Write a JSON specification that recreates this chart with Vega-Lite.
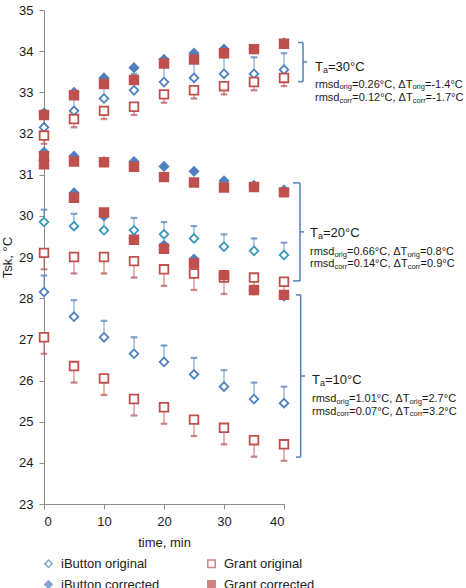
{
  "$schema": "https://vega.github.io/schema/vega-lite/v6.json",
  "width": 240,
  "height": 494,
  "autosize": {"type": "none"},
  "padding": {"left": 44, "top": 10, "right": 182, "bottom": 84},
  "config": {
    "view": {"stroke": null},
    "font": "Liberation Sans",
    "axis": {"labelFont": "Liberation Sans", "titleFont": "Liberation Sans", "labelFontSize": 13, "titleFontSize": 13, "titleFontWeight": "normal", "labelColor": "#1a1a1a", "titleColor": "#1a1a1a", "domainColor": "#8c8c8c", "tickColor": "#8c8c8c", "tickSize": 5, "grid": false},
    "legend": {"orient": "none", "legendX": -2, "legendY": 547, "direction": "horizontal", "columns": 2, "labelFontSize": 13, "labelFont": "Liberation Sans", "labelColor": "#222", "symbolSize": 55, "symbolStrokeWidth": 1.5, "columnPadding": 44, "rowPadding": 6, "labelOffset": 6, "title": null}
  },
  "datasets": {
    "pts": [
      {"g": "30", "series": "iButton original", "t": 0, "v": 32.15, "eb": 32.55},
      {"g": "30", "series": "iButton original", "t": 5, "v": 32.55, "eb": 32.95},
      {"g": "30", "series": "iButton original", "t": 10, "v": 32.85, "eb": 33.25},
      {"g": "30", "series": "iButton original", "t": 15, "v": 33.05, "eb": 33.45},
      {"g": "30", "series": "iButton original", "t": 20, "v": 33.25, "eb": 33.65},
      {"g": "30", "series": "iButton original", "t": 25, "v": 33.35, "eb": 33.75},
      {"g": "30", "series": "iButton original", "t": 30, "v": 33.45, "eb": 33.85},
      {"g": "30", "series": "iButton original", "t": 35, "v": 33.45, "eb": 33.85},
      {"g": "30", "series": "iButton original", "t": 40, "v": 33.55, "eb": 33.95},
      {"g": "30", "series": "Grant original", "t": 0, "v": 31.95, "eb": 31.75},
      {"g": "30", "series": "Grant original", "t": 5, "v": 32.35, "eb": 32.15},
      {"g": "30", "series": "Grant original", "t": 10, "v": 32.55, "eb": 32.35},
      {"g": "30", "series": "Grant original", "t": 15, "v": 32.65, "eb": 32.45},
      {"g": "30", "series": "Grant original", "t": 20, "v": 32.95, "eb": 32.75},
      {"g": "30", "series": "Grant original", "t": 25, "v": 33.05, "eb": 32.85},
      {"g": "30", "series": "Grant original", "t": 30, "v": 33.15, "eb": 32.95},
      {"g": "30", "series": "Grant original", "t": 35, "v": 33.25, "eb": 33.05},
      {"g": "30", "series": "Grant original", "t": 40, "v": 33.35, "eb": 33.15},
      {"g": "20", "series": "iButton original", "t": 0, "v": 29.85, "eb": 30.15},
      {"g": "20", "series": "iButton original", "t": 5, "v": 29.75, "eb": 30.05},
      {"g": "20", "series": "iButton original", "t": 10, "v": 29.65, "eb": 29.95},
      {"g": "20", "series": "iButton original", "t": 15, "v": 29.65, "eb": 29.95},
      {"g": "20", "series": "iButton original", "t": 20, "v": 29.55, "eb": 29.85},
      {"g": "20", "series": "iButton original", "t": 25, "v": 29.45, "eb": 29.75},
      {"g": "20", "series": "iButton original", "t": 30, "v": 29.25, "eb": 29.55},
      {"g": "20", "series": "iButton original", "t": 35, "v": 29.15, "eb": 29.45},
      {"g": "20", "series": "iButton original", "t": 40, "v": 29.05, "eb": 29.35},
      {"g": "20", "series": "Grant original", "t": 0, "v": 29.1, "eb": 28.7},
      {"g": "20", "series": "Grant original", "t": 5, "v": 29.0, "eb": 28.6},
      {"g": "20", "series": "Grant original", "t": 10, "v": 29.0, "eb": 28.6},
      {"g": "20", "series": "Grant original", "t": 15, "v": 28.9, "eb": 28.5},
      {"g": "20", "series": "Grant original", "t": 20, "v": 28.7, "eb": 28.3},
      {"g": "20", "series": "Grant original", "t": 25, "v": 28.6, "eb": 28.2},
      {"g": "20", "series": "Grant original", "t": 30, "v": 28.5, "eb": 28.1},
      {"g": "20", "series": "Grant original", "t": 35, "v": 28.5, "eb": 28.1},
      {"g": "20", "series": "Grant original", "t": 40, "v": 28.4, "eb": 28.0},
      {"g": "10", "series": "iButton original", "t": 0, "v": 28.15, "eb": 28.55},
      {"g": "10", "series": "iButton original", "t": 5, "v": 27.55, "eb": 27.95},
      {"g": "10", "series": "iButton original", "t": 10, "v": 27.05, "eb": 27.45},
      {"g": "10", "series": "iButton original", "t": 15, "v": 26.65, "eb": 27.05},
      {"g": "10", "series": "iButton original", "t": 20, "v": 26.45, "eb": 26.85},
      {"g": "10", "series": "iButton original", "t": 25, "v": 26.15, "eb": 26.55},
      {"g": "10", "series": "iButton original", "t": 30, "v": 25.85, "eb": 26.25},
      {"g": "10", "series": "iButton original", "t": 35, "v": 25.55, "eb": 25.95},
      {"g": "10", "series": "iButton original", "t": 40, "v": 25.45, "eb": 25.85},
      {"g": "10", "series": "Grant original", "t": 0, "v": 27.05, "eb": 26.65},
      {"g": "10", "series": "Grant original", "t": 5, "v": 26.35, "eb": 25.95},
      {"g": "10", "series": "Grant original", "t": 10, "v": 26.05, "eb": 25.65},
      {"g": "10", "series": "Grant original", "t": 15, "v": 25.55, "eb": 25.15},
      {"g": "10", "series": "Grant original", "t": 20, "v": 25.35, "eb": 24.95},
      {"g": "10", "series": "Grant original", "t": 25, "v": 25.05, "eb": 24.65},
      {"g": "10", "series": "Grant original", "t": 30, "v": 24.85, "eb": 24.45},
      {"g": "10", "series": "Grant original", "t": 35, "v": 24.55, "eb": 24.15},
      {"g": "10", "series": "Grant original", "t": 40, "v": 24.45, "eb": 24.05},
      {"g": "30", "series": "iButton corrected", "t": 0, "v": 32.5},
      {"g": "30", "series": "iButton corrected", "t": 5, "v": 33.0},
      {"g": "30", "series": "iButton corrected", "t": 10, "v": 33.35},
      {"g": "30", "series": "iButton corrected", "t": 15, "v": 33.6},
      {"g": "30", "series": "iButton corrected", "t": 20, "v": 33.8},
      {"g": "30", "series": "iButton corrected", "t": 25, "v": 33.95},
      {"g": "30", "series": "iButton corrected", "t": 30, "v": 34.05},
      {"g": "30", "series": "iButton corrected", "t": 35, "v": 34.05},
      {"g": "30", "series": "iButton corrected", "t": 40, "v": 34.2},
      {"g": "20", "series": "iButton corrected", "t": 0, "v": 31.55},
      {"g": "20", "series": "iButton corrected", "t": 5, "v": 31.45},
      {"g": "20", "series": "iButton corrected", "t": 10, "v": 31.32},
      {"g": "20", "series": "iButton corrected", "t": 15, "v": 31.32},
      {"g": "20", "series": "iButton corrected", "t": 20, "v": 31.2},
      {"g": "20", "series": "iButton corrected", "t": 25, "v": 31.08},
      {"g": "20", "series": "iButton corrected", "t": 30, "v": 30.85},
      {"g": "20", "series": "iButton corrected", "t": 35, "v": 30.74},
      {"g": "20", "series": "iButton corrected", "t": 40, "v": 30.63},
      {"g": "10", "series": "iButton corrected", "t": 0, "v": 31.35},
      {"g": "10", "series": "iButton corrected", "t": 5, "v": 30.56},
      {"g": "10", "series": "iButton corrected", "t": 10, "v": 30.0},
      {"g": "10", "series": "iButton corrected", "t": 15, "v": 29.45},
      {"g": "10", "series": "iButton corrected", "t": 20, "v": 29.29},
      {"g": "10", "series": "iButton corrected", "t": 25, "v": 28.95},
      {"g": "10", "series": "iButton corrected", "t": 30, "v": 28.55},
      {"g": "10", "series": "iButton corrected", "t": 35, "v": 28.2},
      {"g": "10", "series": "iButton corrected", "t": 40, "v": 28.05},
      {"g": "30", "series": "Grant corrected", "t": 0, "v": 32.45},
      {"g": "30", "series": "Grant corrected", "t": 5, "v": 32.93},
      {"g": "30", "series": "Grant corrected", "t": 10, "v": 33.2},
      {"g": "30", "series": "Grant corrected", "t": 15, "v": 33.3},
      {"g": "30", "series": "Grant corrected", "t": 20, "v": 33.7},
      {"g": "30", "series": "Grant corrected", "t": 25, "v": 33.8},
      {"g": "30", "series": "Grant corrected", "t": 30, "v": 33.95},
      {"g": "30", "series": "Grant corrected", "t": 35, "v": 34.05},
      {"g": "30", "series": "Grant corrected", "t": 40, "v": 34.18},
      {"g": "20", "series": "Grant corrected", "t": 0, "v": 31.45},
      {"g": "20", "series": "Grant corrected", "t": 5, "v": 31.32},
      {"g": "20", "series": "Grant corrected", "t": 10, "v": 31.3},
      {"g": "20", "series": "Grant corrected", "t": 15, "v": 31.19},
      {"g": "20", "series": "Grant corrected", "t": 20, "v": 30.94},
      {"g": "20", "series": "Grant corrected", "t": 25, "v": 30.81},
      {"g": "20", "series": "Grant corrected", "t": 30, "v": 30.69},
      {"g": "20", "series": "Grant corrected", "t": 35, "v": 30.7},
      {"g": "20", "series": "Grant corrected", "t": 40, "v": 30.57},
      {"g": "10", "series": "Grant corrected", "t": 0, "v": 31.25},
      {"g": "10", "series": "Grant corrected", "t": 5, "v": 30.44},
      {"g": "10", "series": "Grant corrected", "t": 10, "v": 30.08},
      {"g": "10", "series": "Grant corrected", "t": 15, "v": 29.42},
      {"g": "10", "series": "Grant corrected", "t": 20, "v": 29.2},
      {"g": "10", "series": "Grant corrected", "t": 25, "v": 28.85},
      {"g": "10", "series": "Grant corrected", "t": 30, "v": 28.56},
      {"g": "10", "series": "Grant corrected", "t": 35, "v": 28.2},
      {"g": "10", "series": "Grant corrected", "t": 40, "v": 28.08}
    ],
    "ann": [
      {"g": "30", "xb": 43.17, "xh": 42.33, "xm": 43.85, "yt": 34.21, "yb": 33.26, "ym": 33.74, "xt": 45.17, "yTa": 33.62, "y1": 33.18, "y2": 32.86, "ta": "=30°C", "r1": "=0.26°C, ΔT", "e1": "=-1.4°C", "r2": "=0.12°C, ΔT", "e2": "=-1.7°C"},
      {"g": "20", "xb": 42.67, "xh": 41.5, "xm": 43.33, "yt": 30.8, "yb": 28.42, "ym": 29.61, "xt": 44.33, "yTa": 29.58, "y1": 29.12, "y2": 28.82, "ta": "=20°C", "r1": "=0.66°C, ΔT", "e1": "=0.8°C", "r2": "=0.14°C, ΔT", "e2": "=0.9°C"},
      {"g": "10", "xb": 42.78, "xh": 42.0, "xm": 43.5, "yt": 28.08, "yb": 24.14, "ym": 26.11, "xt": 44.67, "yTa": 26.01, "y1": 25.54, "y2": 25.24, "ta": "=10°C", "r1": "=1.01°C, ΔT", "e1": "=2.7°C", "r2": "=0.07°C, ΔT", "e2": "=3.2°C"}
    ]
  },
  "layer": [
    {
      "data": {"name": "pts"},
      "transform": [{"filter": "isValid(datum.eb)"}],
      "mark": {"type": "rule", "strokeWidth": 1.2, "opacity": 0.7},
      "encoding": {
        "x": {"field": "t", "type": "quantitative", "scale": {"domain": [0, 40], "nice": false}, "axis": {"values": [0, 10, 20, 30, 40], "title": "time, min", "labelPadding": 6, "titlePadding": 8}},
        "y": {"field": "v", "type": "quantitative", "scale": {"domain": [23, 35], "nice": false}, "axis": {"values": [23, 24, 25, 26, 27, 28, 29, 30, 31, 32, 33, 34, 35], "title": "Tsk, °C", "labelPadding": 6, "titlePadding": 4}},
        "y2": {"field": "eb"},
        "stroke": {"field": "series", "type": "nominal", "scale": {"domain": ["iButton original", "Grant original", "iButton corrected", "Grant corrected"], "range": ["#4F81BD", "#C0504D", "#4F81BD", "#C0504D"]}}
      }
    },
    {
      "data": {"name": "pts"},
      "transform": [{"filter": "isValid(datum.eb)"}],
      "mark": {"type": "tick", "orient": "horizontal", "size": 6, "thickness": 1.2, "opacity": 0.7},
      "encoding": {
        "x": {"field": "t", "type": "quantitative", "title": "time, min"},
        "y": {"field": "eb", "type": "quantitative", "title": "Tsk, °C"},
        "stroke": {"field": "series", "type": "nominal"}
      }
    },
    {
      "data": {"name": "pts"},
      "transform": [{"filter": "!(datum.g == '20' && datum.series == 'iButton original')"}],
      "mark": {"type": "point", "strokeWidth": 1.8, "opacity": 1, "size": 75},
      "encoding": {
        "x": {"field": "t", "type": "quantitative", "title": "time, min"},
        "y": {"field": "v", "type": "quantitative", "title": "Tsk, °C"},
        "shape": {"field": "series", "type": "nominal", "scale": {"domain": ["iButton original", "Grant original", "iButton corrected", "Grant corrected"], "range": ["diamond", "square", "diamond", "square"]}},
        "stroke": {"field": "series", "type": "nominal"},
        "fill": {"field": "series", "type": "nominal", "scale": {"domain": ["iButton original", "Grant original", "iButton corrected", "Grant corrected"], "range": ["#ffffff", "#ffffff", "#4F81BD", "#C0504D"]}}
      }
    },
    {
      "data": {"name": "pts"},
      "transform": [{"filter": "datum.g == '20' && datum.series == 'iButton original'"}],
      "mark": {"type": "point", "shape": "diamond", "strokeWidth": 1.8, "opacity": 1, "size": 75, "stroke": "#3A98B9", "fill": "#ffffff", "filled": false},
      "encoding": {
        "x": {"field": "t", "type": "quantitative", "title": "time, min"},
        "y": {"field": "v", "type": "quantitative", "title": "Tsk, °C"}
      }
    },
    {
      "data": {"name": "ann"},
      "mark": {"type": "rule", "stroke": "#4F81BD", "strokeWidth": 1.5},
      "encoding": {"x": {"field": "xb", "type": "quantitative", "title": "time, min"}, "y": {"field": "yt", "type": "quantitative", "title": "Tsk, °C"}, "y2": {"field": "yb"}}
    },
    {
      "data": {"name": "ann"},
      "mark": {"type": "rule", "stroke": "#4F81BD", "strokeWidth": 1.5},
      "encoding": {"x": {"field": "xh", "type": "quantitative", "title": "time, min"}, "x2": {"field": "xb"}, "y": {"field": "yt", "type": "quantitative", "title": "Tsk, °C"}}
    },
    {
      "data": {"name": "ann"},
      "mark": {"type": "rule", "stroke": "#4F81BD", "strokeWidth": 1.5},
      "encoding": {"x": {"field": "xh", "type": "quantitative", "title": "time, min"}, "x2": {"field": "xb"}, "y": {"field": "yb", "type": "quantitative", "title": "Tsk, °C"}}
    },
    {
      "data": {"name": "ann"},
      "mark": {"type": "rule", "stroke": "#4F81BD", "strokeWidth": 1.5},
      "encoding": {"x": {"field": "xb", "type": "quantitative", "title": "time, min"}, "x2": {"field": "xm"}, "y": {"field": "ym", "type": "quantitative", "title": "Tsk, °C"}}
    },
    {
      "data": {"name": "ann"},
      "mark": {"type": "text", "align": "left", "baseline": "middle", "fontSize": 13, "font": "Liberation Sans", "color": "#1a1a1a"},
      "encoding": {"x": {"field": "xt", "type": "quantitative", "title": "time, min"}, "y": {"field": "yTa", "type": "quantitative", "title": "Tsk, °C"}, "text": {"value": "T"}}
    },
    {
      "data": {"name": "ann"},
      "mark": {"type": "text", "align": "left", "baseline": "middle", "fontSize": 9, "font": "Liberation Sans", "color": "#1a1a1a", "dx": 8, "dy": 3},
      "encoding": {"x": {"field": "xt", "type": "quantitative", "title": "time, min"}, "y": {"field": "yTa", "type": "quantitative", "title": "Tsk, °C"}, "text": {"value": "a"}}
    },
    {
      "data": {"name": "ann"},
      "mark": {"type": "text", "align": "left", "baseline": "middle", "fontSize": 13, "font": "Liberation Sans", "color": "#1a1a1a", "dx": 13},
      "encoding": {"x": {"field": "xt", "type": "quantitative", "title": "time, min"}, "y": {"field": "yTa", "type": "quantitative", "title": "Tsk, °C"}, "text": {"field": "ta"}}
    },
    {
      "data": {"name": "ann"},
      "mark": {"type": "text", "align": "left", "baseline": "middle", "fontSize": 11, "font": "Liberation Sans", "color": "#1a1a1a"},
      "encoding": {"x": {"field": "xt", "type": "quantitative", "title": "time, min"}, "y": {"field": "y1", "type": "quantitative", "title": "Tsk, °C"}, "text": {"value": "rmsd"}}
    },
    {
      "data": {"name": "ann"},
      "mark": {"type": "text", "align": "left", "baseline": "middle", "fontSize": 7.5, "font": "Liberation Sans", "color": "#1a1a1a", "dx": 24.4, "dy": 2.5},
      "encoding": {"x": {"field": "xt", "type": "quantitative", "title": "time, min"}, "y": {"field": "y1", "type": "quantitative", "title": "Tsk, °C"}, "text": {"value": "orig"}}
    },
    {
      "data": {"name": "ann"},
      "mark": {"type": "text", "align": "left", "baseline": "middle", "fontSize": 11, "font": "Liberation Sans", "color": "#1a1a1a", "dx": 37},
      "encoding": {"x": {"field": "xt", "type": "quantitative", "title": "time, min"}, "y": {"field": "y1", "type": "quantitative", "title": "Tsk, °C"}, "text": {"field": "r1"}}
    },
    {
      "data": {"name": "ann"},
      "mark": {"type": "text", "align": "left", "baseline": "middle", "fontSize": 7.5, "font": "Liberation Sans", "color": "#1a1a1a", "dx": 97.4, "dy": 2.5},
      "encoding": {"x": {"field": "xt", "type": "quantitative", "title": "time, min"}, "y": {"field": "y1", "type": "quantitative", "title": "Tsk, °C"}, "text": {"value": "orig"}}
    },
    {
      "data": {"name": "ann"},
      "mark": {"type": "text", "align": "left", "baseline": "middle", "fontSize": 11, "font": "Liberation Sans", "color": "#1a1a1a", "dx": 110},
      "encoding": {"x": {"field": "xt", "type": "quantitative", "title": "time, min"}, "y": {"field": "y1", "type": "quantitative", "title": "Tsk, °C"}, "text": {"field": "e1"}}
    },
    {
      "data": {"name": "ann"},
      "mark": {"type": "text", "align": "left", "baseline": "middle", "fontSize": 11, "font": "Liberation Sans", "color": "#1a1a1a"},
      "encoding": {"x": {"field": "xt", "type": "quantitative", "title": "time, min"}, "y": {"field": "y2", "type": "quantitative", "title": "Tsk, °C"}, "text": {"value": "rmsd"}}
    },
    {
      "data": {"name": "ann"},
      "mark": {"type": "text", "align": "left", "baseline": "middle", "fontSize": 7.5, "font": "Liberation Sans", "color": "#1a1a1a", "dx": 24.4, "dy": 2.5},
      "encoding": {"x": {"field": "xt", "type": "quantitative", "title": "time, min"}, "y": {"field": "y2", "type": "quantitative", "title": "Tsk, °C"}, "text": {"value": "corr"}}
    },
    {
      "data": {"name": "ann"},
      "mark": {"type": "text", "align": "left", "baseline": "middle", "fontSize": 11, "font": "Liberation Sans", "color": "#1a1a1a", "dx": 37.3},
      "encoding": {"x": {"field": "xt", "type": "quantitative", "title": "time, min"}, "y": {"field": "y2", "type": "quantitative", "title": "Tsk, °C"}, "text": {"field": "r2"}}
    },
    {
      "data": {"name": "ann"},
      "mark": {"type": "text", "align": "left", "baseline": "middle", "fontSize": 7.5, "font": "Liberation Sans", "color": "#1a1a1a", "dx": 97.7, "dy": 2.5},
      "encoding": {"x": {"field": "xt", "type": "quantitative", "title": "time, min"}, "y": {"field": "y2", "type": "quantitative", "title": "Tsk, °C"}, "text": {"value": "corr"}}
    },
    {
      "data": {"name": "ann"},
      "mark": {"type": "text", "align": "left", "baseline": "middle", "fontSize": 11, "font": "Liberation Sans", "color": "#1a1a1a", "dx": 110.6},
      "encoding": {"x": {"field": "xt", "type": "quantitative", "title": "time, min"}, "y": {"field": "y2", "type": "quantitative", "title": "Tsk, °C"}, "text": {"field": "e2"}}
    }
  ]
}
